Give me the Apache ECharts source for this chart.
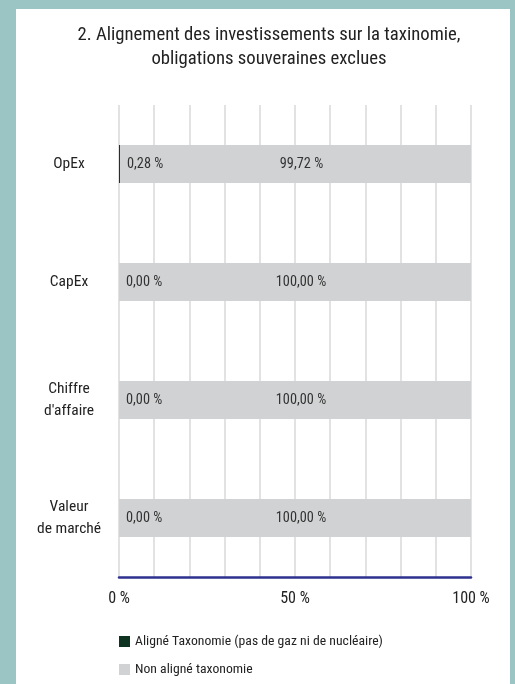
<!DOCTYPE html>
<html><head><meta charset="utf-8">
<script src="https://cdn.jsdelivr.net/npm/echarts@6/dist/echarts.min.js"></script>
<style>
html,body{margin:0;padding:0;background:#9bc4c4;width:515px;height:684px;overflow:hidden}
#panel{position:absolute;left:16px;top:9px;width:494px;height:690px;background:#fff}
#chart{position:absolute;left:0;top:0;width:515px;height:684px}
</style></head><body>
<div id="panel"></div>
<div id="chart"></div>
<script>
const titleText = "2. Alignement des investissements sur la taxinomie,\nobligations souveraines exclues";
const categories = ["OpEx", "CapEx", "Chiffre\nd'affaire", "Valeur\nde marché"];
const seriesNames = ["Aligné Taxonomie (pas de gaz ni de nucléaire)", "Non aligné taxonomie"];
const alignedValues = [0.28, 0.00, 0.00, 0.00];
const nonAlignedValues = [99.72, 100.00, 100.00, 100.00];
const xTickLabels = [0, 50, 100];

const FONT = "'Roboto Condensed', 'Roboto', sans-serif";
const fmt = v => v.toFixed(2).replace('.', ',') + ' %';

const chart = echarts.init(document.getElementById('chart'), null, {renderer: 'canvas'});
chart.setOption({
  backgroundColor: 'transparent',
  textStyle: {fontFamily: FONT},
  title: {
    text: titleText,
    left: 264, top: 18, textAlign: 'center',
    textStyle: {fontFamily: FONT, fontSize: 18.7, fontWeight: 'normal', color: '#222', lineHeight: 24}
  },
  legend: {
    orient: 'vertical', left: 119, top: 633, padding: 0, height: 60,
    itemWidth: 11, itemHeight: 11, itemGap: 11,
    icon: 'rect',
    textStyle: {fontFamily: FONT, fontSize: 13.7, color: '#222', lineHeight: 17},
    data: seriesNames
  },
  grid: {left: 119, right: 44, top: 105, bottom: 107, containLabel: false},
  xAxis: {
    type: 'value', min: 0, max: 100, interval: 10,
    axisLine: {show: true, lineStyle: {color: '#2e3190', width: 2.5}},
    axisTick: {show: false},
    splitLine: {show: true, lineStyle: {color: '#d9d9d9', width: 1.5}},
    axisLabel: {
      fontFamily: FONT, fontSize: 16, color: '#222', margin: 14,
      formatter: v => xTickLabels.includes(v) ? v + ' %' : ''
    }
  },
  yAxis: {
    type: 'category', data: categories, inverse: true,
    axisLine: {show: false}, axisTick: {show: false}, splitLine: {show: false},
    axisLabel: {fontFamily: FONT, fontSize: 15.5, color: '#222', align: 'center', margin: 50, lineHeight: 22}
  },
  series: [
    {
      name: seriesNames[0], type: 'bar', stack: 't', data: alignedValues, barWidth: 38,
      itemStyle: {color: '#0e3421'},
      label: {show: true, position: 'right', distance: 7, formatter: p => fmt(p.value),
        fontFamily: FONT, fontSize: 14.3, color: '#333'}
    },
    {
      name: seriesNames[1], type: 'bar', stack: 't', data: nonAlignedValues, barWidth: 38,
      itemStyle: {color: '#d0d2d3'},
      label: {show: true, position: 'inside', offset: [6, 0], formatter: p => fmt(p.value),
        fontFamily: FONT, fontSize: 14.3, color: '#333'}
    }
  ]
});
</script>
</body></html>
